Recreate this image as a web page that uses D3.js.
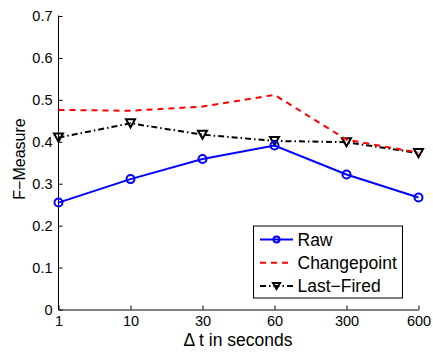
<!DOCTYPE html>
<html>
<head>
<meta charset="utf-8">
<script src="https://cdn.jsdelivr.net/npm/d3@7"></script>
<style>
  body { margin: 0; background: #fff; }
  text { font-family: "Liberation Sans", Arial, sans-serif; fill: #000; }
</style>
</head>
<body>
<div id="chart"></div>
<script>
// x categories (delta t in seconds)
const deltas = ['1', '10', '30', '60', '300', '600'];

// F-measure per series
const raw = [0.255, 0.311, 0.359, 0.391, 0.322, 0.267];
const changepoint = [0.476, 0.474, 0.484, 0.512, 0.405, 0.374];
const lastFired = [0.410, 0.444, 0.417, 0.402, 0.399, 0.373];

const yTicks = [0, 0.1, 0.2, 0.3, 0.4, 0.5, 0.6, 0.7];

const svgWidth = 433, svgHeight = 352;
const margin = {left: 58.5, right: 14.5, top: 16, bottom: 42.5};
const width = svgWidth - margin.left - margin.right;
const height = svgHeight - margin.top - margin.bottom;

const x = d3.scalePoint().domain(deltas).range([0, width]);
const y = d3.scaleLinear().domain([0, 0.7]).range([height, 0]);

const svg = d3.select('#chart').append('svg')
    .attr('width', svgWidth)
    .attr('height', svgHeight)
  .append('g')
    .attr('transform', 'translate(' + margin.left + ',' + margin.top + ')');

// axes, matlab style: ticks pointing inward
const xAxis = svg.append('g')
    .attr('transform', 'translate(0,' + height + ')')
    .call(d3.axisBottom(x).tickSizeInner(-4).tickSizeOuter(0).tickPadding(6));
const yAxis = svg.append('g')
    .call(d3.axisLeft(y).tickValues(yTicks).tickFormat(d => d === 0 ? '0' : d3.format('.1f')(d))
      .tickSizeInner(-4).tickSizeOuter(0).tickPadding(6));

[xAxis, yAxis].forEach(a => {
  a.selectAll('text').style('font-size', '14.5px').attr('fill', '#000');
  a.selectAll('line, path').attr('stroke', '#000').attr('stroke-width', 1);
});
yAxis.select('.domain').attr('d', 'M0,' + (height + 0.5) + 'V-0.5');
xAxis.selectAll('text').attr('dy', '0.71em');

const series = [
  {name: 'Raw', values: raw, color: '#0000ff', dash: null, marker: 'circle'},
  {name: 'Changepoint', values: changepoint, color: '#ff0000', dash: '6,5', marker: null},
  {name: 'Last\u2212Fired', values: lastFired, color: '#000000', dash: '6,3,1.5,3', marker: 'tri'}
];

const line = d3.line()
    .x((d, i) => x(deltas[i]))
    .y(d => y(d));

function drawMarker(g, type, color) {
  if (type === 'circle') {
    g.append('circle').attr('r', 4).attr('fill', 'none')
      .attr('stroke', color).attr('stroke-width', 2);
  } else if (type === 'tri') {
    g.append('path').attr('d', 'M-4.5,-4L4.5,-4L0,4Z').attr('fill', 'none')
      .attr('stroke', color).attr('stroke-width', 2).attr('stroke-linejoin', 'miter');
  }
}

// draw lines in reverse so Raw sits on top
series.slice().reverse().forEach(s => {
  svg.append('path')
      .datum(s.values)
      .attr('d', line)
      .attr('fill', 'none')
      .attr('stroke', s.color)
      .attr('stroke-width', 2)
      .attr('stroke-dasharray', s.dash);
  if (s.marker) {
    s.values.forEach((v, i) => {
      const g = svg.append('g').attr('transform', 'translate(' + x(deltas[i]) + ',' + y(v) + ')');
      drawMarker(g, s.marker, s.color);
    });
  }
});

// legend
const legend = svg.append('g')
    .attr('transform', 'translate(' + (253.5 - margin.left) + ',' + (226 - margin.top) + ')');
legend.append('rect')
    .attr('width', 149).attr('height', 72)
    .attr('fill', '#fff').attr('stroke', '#000').attr('stroke-width', 1);
series.forEach((s, i) => {
  const ly = 13.5 + i * 23.3;
  legend.append('line')
      .attr('x1', 6.5).attr('x2', 39.5).attr('y1', ly).attr('y2', ly)
      .attr('stroke', s.color).attr('stroke-width', 2)
      .attr('stroke-dasharray', s.dash);
  if (s.marker) {
    const g = legend.append('g').attr('transform', 'translate(23,' + ly + ')');
    drawMarker(g, s.marker, s.color);
    g.select('circle').attr('r', 3);
    g.select('path').attr('d', 'M-3.5,-3L3.5,-3L0,3Z');
  }
  legend.append('text')
      .attr('x', 44).attr('y', ly)
      .attr('dy', '0.36em')
      .style('font-size', '17.5px')
      .text(s.name);
});

// axis labels
svg.append('text')
    .attr('x', (183.3 + 292.7) / 2 - margin.left)
    .attr('y', 346 - margin.top)
    .attr('text-anchor', 'middle')
    .style('font-size', '17.5px')
    .text('\u0394 t in seconds');
svg.append('text')
    .attr('transform', 'translate(' + (25 - margin.left) + ',' + (159 - margin.top) + ') rotate(-90)')
    .attr('text-anchor', 'middle')
    .style('font-size', '16px')
    .text('F\u2212Measure');
</script>
</body>
</html>
